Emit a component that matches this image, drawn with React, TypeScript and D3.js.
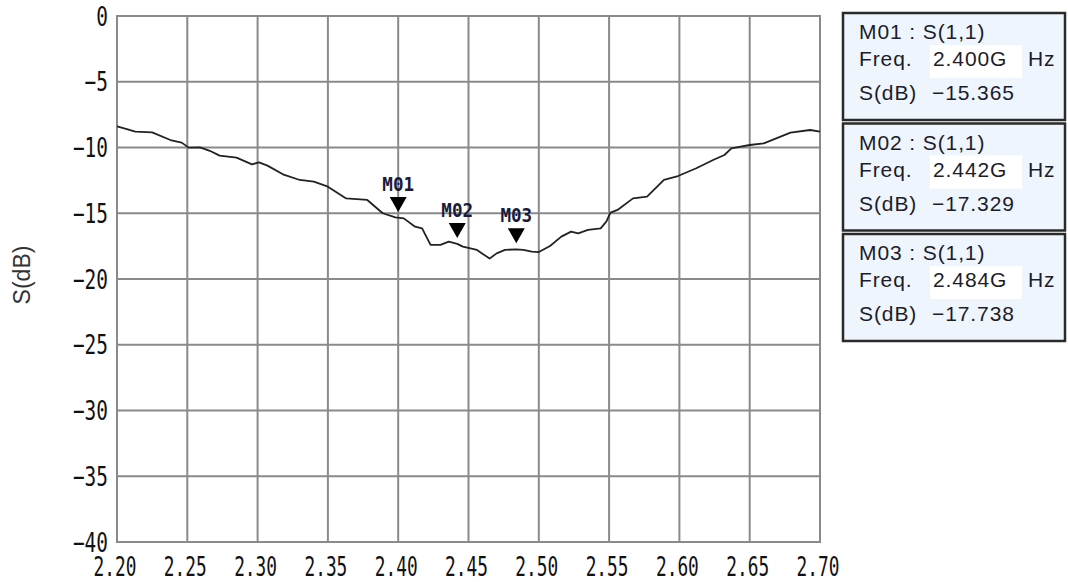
import React from "react";
import * as d3 from "d3";

const freqs = [2.2, 2.207, 2.213, 2.225, 2.238, 2.246, 2.251, 2.259, 2.266, 2.273, 2.285, 2.296, 2.301, 2.307, 2.318, 2.33, 2.34, 2.35, 2.363, 2.378, 2.389, 2.398, 2.404, 2.412, 2.417, 2.423, 2.43, 2.436, 2.442, 2.446, 2.456, 2.465, 2.47, 2.476, 2.484, 2.489, 2.495, 2.5, 2.508, 2.516, 2.523, 2.528, 2.535, 2.544, 2.548, 2.551, 2.556, 2.567, 2.577, 2.589, 2.599, 2.612, 2.624, 2.632, 2.637, 2.65, 2.66, 2.679, 2.693, 2.7];
const sdb = [-8.4, -8.6, -8.8, -8.85, -9.43, -9.63, -10.01, -9.99, -10.25, -10.62, -10.77, -11.28, -11.13, -11.38, -12.04, -12.47, -12.6, -12.98, -13.87, -13.99, -15.0, -15.31, -15.39, -16.02, -16.15, -17.41, -17.41, -17.16, -17.33, -17.54, -17.79, -18.45, -18.05, -17.79, -17.74, -17.79, -17.92, -17.95, -17.49, -16.78, -16.4, -16.53, -16.27, -16.15, -15.64, -14.95, -14.75, -13.87, -13.74, -12.47, -12.17, -11.58, -10.95, -10.57, -10.06, -9.81, -9.68, -8.87, -8.67, -8.8];

const xTicks = [2.2, 2.25, 2.3, 2.35, 2.4, 2.45, 2.5, 2.55, 2.6, 2.65, 2.7];
const yTicks = [0, -5, -10, -15, -20, -25, -30, -35, -40];

const markerNames = ["M01", "M02", "M03"];
const markerFreqs = [2.4, 2.442, 2.484];
const markerValues = [-15.365, -17.329, -17.738];
const markerFreqLabels = ["2.400G", "2.442G", "2.484G"];
const markerValueLabels = ["\u221215.365", "\u221217.329", "\u221217.738"];

const W = 1068;
const H = 582;
const left = 117;
const right = 820;
const top = 16;
const bottom = 542;

export default function App() {
  const x = d3.scaleLinear().domain([2.2, 2.7]).range([left, right]);
  const y = d3.scaleLinear().domain([0, -40]).range([top, bottom]);
  const pts: [number, number][] = freqs.map((f, i) => [f, sdb[i]]);
  const line = d3
    .line<[number, number]>()
    .x((d) => x(d[0]))
    .y((d) => y(d[1]))
    .curve(d3.curveLinear);

  const grid = "#8a8a8a";
  const tickFont = "'DejaVu Sans Mono', monospace";
  const legFont = "'Liberation Sans', Arial, sans-serif";
  const textCol = "#1c1c2a";

  const boxTop0 = 13;
  const boxStep = 110.5;

  return (
    <svg
      width={W}
      height={H}
      style={{ position: "absolute", left: 0, top: 0, background: "#fff" }}
    >
      <rect x={0} y={0} width={W} height={H} fill="#fff" />
      {/* grid */}
      {xTicks.map((t) => (
        <line key={"gx" + t} x1={x(t)} x2={x(t)} y1={top} y2={bottom} stroke={grid} strokeWidth={2} />
      ))}
      {yTicks.map((t) => (
        <line key={"gy" + t} x1={left} x2={right} y1={y(t)} y2={y(t)} stroke={grid} strokeWidth={2} />
      ))}
      <rect x={left} y={top} width={right - left} height={bottom - top} fill="none" stroke={grid} strokeWidth={2} />

      {/* curve */}
      <path d={line(pts) || ""} fill="none" stroke="#222" strokeWidth={1.8} strokeLinejoin="round" />

      {/* markers */}
      {markerFreqs.map((f, i) => {
        const px = x(f);
        const py = y(markerValues[i]);
        const tip = py - 6;
        const tTop = tip - 15;
        return (
          <g key={"m" + i}>
            <path d={`M${px - 8.5},${tTop} L${px + 8.5},${tTop} L${px},${tip} Z`} fill="#000" />
            <text
              transform={`translate(${px},${tTop - 6}) scale(0.88,1)`}
              textAnchor="middle"
              fontFamily={tickFont}
              fontSize={20}
              fontWeight={600}
              fill="#1a1a3a"
            >
              {markerNames[i]}
            </text>
          </g>
        );
      })}

      {/* x tick labels */}
      {xTicks.map((t) => (
        <text
          key={"tx" + t}
          transform={`translate(${x(t) - 2},${576}) scale(0.66,1)`}
          textAnchor="middle"
          fontFamily={tickFont}
          fontSize={27}
          fill="#111"
        >
          {t.toFixed(2)}
        </text>
      ))}
      {/* y tick labels */}
      {yTicks.map((t) => (
        <text
          key={"ty" + t}
          transform={`translate(${108},${Math.max(y(t), 14) + 9.5}) scale(0.72,1)`}
          textAnchor="end"
          fontFamily={tickFont}
          fontSize={27}
          fill="#111"
        >
          {t === 0 ? "0" : "\u2212" + Math.abs(t)}
        </text>
      ))}

      {/* y title */}
      <text
        transform={`translate(${30},${275}) rotate(-90)`}
        textAnchor="middle"
        fontFamily={legFont}
        fontSize={23}
        fill="#333"
      >
        S(dB)
      </text>

      {/* legend boxes */}
      {markerNames.map((n, i) => {
        const by = boxTop0 + i * boxStep;
        return (
          <g key={"lg" + i}>
            <rect x={843} y={by} width={222} height={107} fill="#eef5fc" stroke="#2a2a2a" strokeWidth={2.5} />
            <rect x={930} y={by + 32} width={92} height={33} fill="#ffffff" />
            <text x={859} y={by + 26} fontFamily={legFont} fontSize={21} fill={textCol} letterSpacing={0.9}>
              {n + " : S(1,1)"}
            </text>
            <text x={859} y={by + 53} fontFamily={legFont} fontSize={21} fill={textCol} letterSpacing={0.9}>
              Freq.
            </text>
            <text x={933} y={by + 53} fontFamily={legFont} fontSize={21} fill={textCol} letterSpacing={0.9}>
              {markerFreqLabels[i]}
            </text>
            <text x={1028} y={by + 53} fontFamily={legFont} fontSize={21} fill={textCol} letterSpacing={0.9}>
              Hz
            </text>
            <text x={859} y={by + 87} fontFamily={legFont} fontSize={21} fill={textCol} letterSpacing={0.9}>
              S(dB)
            </text>
            <text x={932} y={by + 87} fontFamily={legFont} fontSize={21} fill={textCol} letterSpacing={0.9}>
              {markerValueLabels[i]}
            </text>
          </g>
        );
      })}
    </svg>
  );
}
